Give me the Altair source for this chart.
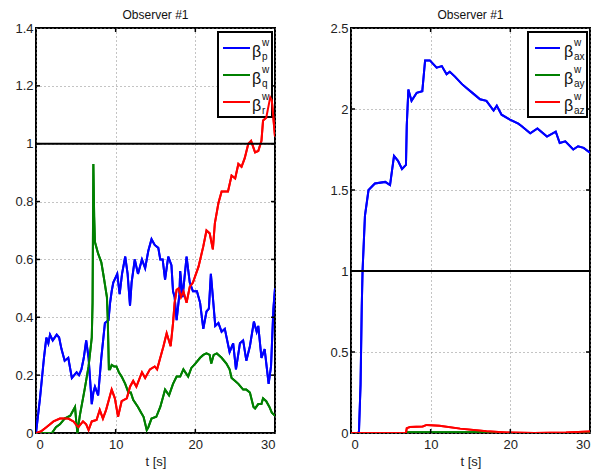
import altair as alt
import pandas as pd

# ---------------- data ----------------
p_t = [0, 0.5, 1.0, 1.3, 1.55, 1.76, 2.1, 2.6, 2.9, 3.2, 3.6, 4.05, 4.5, 4.8, 5.1, 5.4, 5.7, 6.0, 6.3, 6.6,
       7.0, 7.2, 7.4, 7.8, 8.2, 8.65, 9.1, 9.3, 9.5, 9.7, 10.2, 10.5, 10.8, 11.2, 11.5, 11.8, 12.0, 12.4, 12.8,
       13.3, 13.7, 14.1, 14.5, 14.9, 15.35, 15.6, 15.9, 16.2, 16.6, 17.0, 17.2, 17.4, 17.65, 18.0, 18.1, 18.4,
       18.9, 19.3, 19.7, 20.2, 20.6, 21.0, 21.4, 21.7, 21.95, 22.2, 22.5, 22.9, 23.3, 23.7, 24.3, 24.75, 25.1,
       25.6, 26.0, 26.4, 26.85, 27.35, 27.7, 27.9, 28.3, 28.7, 29.2, 29.5, 29.8, 30.0]
p_v = [0, 0.12, 0.26, 0.33, 0.31, 0.34, 0.32, 0.34, 0.33, 0.29, 0.25, 0.26, 0.19, 0.20, 0.21, 0.20, 0.22, 0.26, 0.32, 0.26,
       0.10, 0.14, 0.16, 0.13, 0.26, 0.38, 0.39, 0.45, 0.49, 0.52, 0.55, 0.48, 0.55, 0.61, 0.55, 0.44, 0.52, 0.60, 0.55,
       0.60, 0.57, 0.63, 0.67, 0.65, 0.64, 0.60, 0.60, 0.53, 0.61, 0.58, 0.49, 0.47, 0.39, 0.48, 0.56, 0.47,
       0.61, 0.52, 0.49, 0.49, 0.45, 0.36, 0.42, 0.43, 0.55, 0.47, 0.37, 0.38, 0.35, 0.36, 0.28, 0.31, 0.22,
       0.31, 0.32, 0.25, 0.30, 0.385, 0.35, 0.37, 0.26, 0.29, 0.17, 0.23, 0.43, 0.50]

q_t = [0, 1.0, 2.0, 2.5, 3.0, 3.6, 4.3, 4.9, 5.05, 5.2, 5.5, 6.1, 6.6, 7.0, 7.1, 7.2, 7.3, 7.4, 7.8, 8.2, 8.5,
       8.9, 9.0, 9.15, 9.3, 9.5, 9.8, 10.1, 10.4, 10.75, 11.2, 11.6, 11.9, 12.2, 12.8, 13.2, 13.5, 13.9, 14.1,
       14.5, 15.1, 15.6, 16.0, 16.2, 16.7, 17.2, 17.65, 18.1, 18.5, 19.1, 19.5, 20.0, 20.6, 21.0, 21.4, 21.8,
       22.0, 22.3, 22.7, 23.3, 23.9, 24.3, 24.55, 25.0, 25.4, 26.0, 26.4, 26.85, 27.3, 27.5, 27.9, 28.3, 28.5,
       28.9, 29.3, 29.6, 30.0]
q_v = [0, 0, 0.0, 0.02, 0.03, 0.05, 0.06, 0.09, 0.04, 0.0, 0.06, 0.15, 0.23, 0.33, 0.45, 0.93, 0.75, 0.66, 0.62, 0.59, 0.54,
       0.47, 0.40, 0.22, 0.22, 0.235, 0.23, 0.23, 0.21, 0.195, 0.17, 0.14, 0.14, 0.115, 0.09, 0.07, 0.056, 0.01, 0.02,
       0.05, 0.056, 0.09, 0.13, 0.15, 0.13, 0.17, 0.195, 0.195, 0.22, 0.195, 0.225, 0.24, 0.26, 0.27, 0.275, 0.27,
       0.24, 0.27, 0.275, 0.26, 0.24, 0.22, 0.19, 0.18, 0.17, 0.15, 0.15, 0.14, 0.09, 0.085, 0.10, 0.10, 0.12,
       0.11, 0.09, 0.07, 0.06]

r_t = [0, 0.6, 1.3, 2.2, 3.0, 4.05, 4.7, 5.3, 5.9, 6.3, 6.6, 7.0, 7.6, 8.0, 8.4, 8.8, 9.2, 9.5, 9.9, 10.3, 10.75,
       11.4, 11.8, 12.2, 12.6, 13.3, 13.7, 14.3, 14.9, 15.2, 15.6, 16.0, 16.4, 16.9, 17.2, 17.4, 17.65, 17.9,
       18.2, 18.5, 18.9, 19.3, 19.7, 20.4, 21.0, 21.4, 21.8, 22.2, 22.45, 22.9, 23.3, 24.1, 24.55, 25.0, 25.4,
       25.8, 26.2, 26.65, 27.0, 27.5, 27.9, 28.3, 28.5, 28.9, 29.4, 29.6, 30.0]
r_v = [0, 0.005, 0.02, 0.04, 0.05, 0.05, 0.04, 0.02, 0.04, 0.03, 0.01, 0.04, 0.045, 0.08, 0.05, 0.08, 0.12, 0.15, 0.12, 0.056, 0.11,
       0.12, 0.16, 0.18, 0.16, 0.21, 0.19, 0.22, 0.23, 0.22, 0.26, 0.30, 0.345, 0.30, 0.38, 0.45, 0.495, 0.50,
       0.47, 0.49, 0.45, 0.505, 0.52, 0.575, 0.645, 0.70, 0.69, 0.635, 0.725, 0.795, 0.835, 0.835, 0.89, 0.88, 0.93,
       0.92, 0.95, 1.0, 1.01, 0.97, 0.975, 1.01, 1.08, 1.09, 1.16, 1.15, 1.025]

ax_t = [0, 0.9, 1.0, 1.2, 1.35, 1.45, 1.75, 2.2, 3.0, 4.3, 4.9, 5.4, 5.9, 6.4, 6.9, 7.0, 7.2, 7.6, 8.25, 8.95,
        9.3, 9.9, 10.75, 11.4, 12.0, 12.4, 13.05, 13.9, 14.5, 15.35, 16.2, 17.0, 17.9, 18.3, 18.9, 19.95, 21.0,
        21.4, 22.5, 23.4, 24.6, 25.7, 26.2, 26.9, 27.9, 28.5, 29.2, 30.0]
ax_v = [0, 0, 0.01, 0.3, 0.78, 1.0, 1.34, 1.50, 1.54, 1.55, 1.53, 1.71, 1.68, 1.63, 1.655, 1.9, 2.12, 2.05, 2.10, 2.11,
        2.30, 2.30, 2.255, 2.265, 2.215, 2.23, 2.20, 2.155, 2.13, 2.095, 2.06, 2.05, 1.99, 2.02, 1.965, 1.935, 1.91,
        1.895, 1.85, 1.88, 1.83, 1.86, 1.79, 1.80, 1.75, 1.77, 1.76, 1.73]

ay_t = [0, 7.0, 7.1, 17.5, 18.0, 30.0]
ay_v = [0, 0, 0.005, 0.005, 0, 0]

az_t = [0, 6.9, 7.0, 7.4, 9.0, 9.5, 11.1, 13.7, 17.0, 19.5, 23.0, 27.0, 30.0]
az_v = [0, 0, 0.03, 0.037, 0.04, 0.05, 0.045, 0.027, 0.011, 0.003, 0.0, 0.003, 0.01]

left_names = ["p", "q", "r"]
right_names = ["ax", "ay", "az"]
colors = ["#0000ff", "#008000", "#ff0000"]
x_ticks = [0, 10, 20, 30]
left_yticks = [0, 0.2, 0.4, 0.6, 0.8, 1.0, 1.2, 1.4]
right_yticks = [0, 0.5, 1.0, 1.5, 2.0, 2.5]
title_text = "Observer #1"

W, H = 239, 405
FONT = "Liberation Sans"


def long_frame(names, ts, vs):
    rows = []
    for n, t, v in zip(names, ts, vs):
        for a, b in zip(t, v):
            rows.append({"s": n, "t": a, "v": b})
    return pd.DataFrame(rows)


def panel(names, ts, vs, ydom, yticks, box, line_x, beta_x):
    df = long_frame(names, ts, vs)
    xs = alt.X("t:Q", scale=alt.Scale(domain=[0, 30], nice=False),
               axis=alt.Axis(values=x_ticks, title="t [s]", grid=True))
    ys = alt.Y("v:Q", scale=alt.Scale(domain=ydom, nice=False),
               axis=alt.Axis(values=yticks, title=None, grid=True,
                             labelExpr="format(datum.value, '~g')"))
    lines = alt.Chart(df).mark_line(strokeWidth=2, clip=True).encode(
        x=xs, y=ys,
        color=alt.Color("s:N", scale=alt.Scale(domain=names, range=colors), legend=None),
    )
    ref = alt.Chart(pd.DataFrame({"v": [1.0]})).mark_rule(color="black", strokeWidth=2).encode(
        y=alt.Y("v:Q"))
    ytk = pd.DataFrame({"v": yticks[1:-1]})
    xtk = pd.DataFrame({"t": x_ticks[1:-1]})
    tick_layers = [
        alt.Chart(ytk).mark_rule(color="black", strokeWidth=1.5).encode(
            y=alt.Y("v:Q"), x=alt.value(0), x2=alt.value(4)),
        alt.Chart(ytk).mark_rule(color="black", strokeWidth=1.5).encode(
            y=alt.Y("v:Q"), x=alt.value(W - 4), x2=alt.value(W)),
        alt.Chart(xtk).mark_rule(color="black", strokeWidth=1.5).encode(
            x=alt.X("t:Q"), y=alt.value(H - 4), y2=alt.value(H)),
        alt.Chart(xtk).mark_rule(color="black", strokeWidth=1.5).encode(
            x=alt.X("t:Q"), y=alt.value(0), y2=alt.value(4)),
    ]
    dummy = pd.DataFrame({"a": [0]})
    bx0, bx1, by0, by1 = box
    box_layer = alt.Chart(dummy).mark_rect(fill="white", stroke="black", strokeWidth=2).encode(
        x=alt.value(bx0), x2=alt.value(bx1), y=alt.value(by0), y2=alt.value(by1))
    leg = []
    for i, (n, c) in enumerate(zip(names, colors)):
        yy = 20 + 27 * i
        leg.append(alt.Chart(dummy).mark_rule(color=c, strokeWidth=2).encode(
            x=alt.value(line_x[0]), x2=alt.value(line_x[1]), y=alt.value(yy)))
        leg.append(alt.Chart(dummy).mark_text(text="β", font=FONT, fontSize=16, align="left",
                                               baseline="middle", color="#111").encode(
            x=alt.value(beta_x), y=alt.value(yy + 4)))
        leg.append(alt.Chart(dummy).mark_text(text="w", font=FONT, fontSize=10, align="left",
                                               baseline="middle", color="#111").encode(
            x=alt.value(beta_x + 10), y=alt.value(yy - 5)))
        leg.append(alt.Chart(dummy).mark_text(text=n, font=FONT, fontSize=10, align="left",
                                               baseline="middle", color="#111").encode(
            x=alt.value(beta_x + 10), y=alt.value(yy + 9)))
    return alt.layer(lines, box_layer, lines, ref, *tick_layers, *leg).properties(
        width=W, height=H,
        title=alt.TitleParams(title_text, fontSize=12, font=FONT, fontWeight="normal",
                              color="#111", offset=0),
    )


left = panel(left_names, [p_t, q_t, r_t], [p_v, q_v, r_v], [0, 1.4], left_yticks,
             (182, 236, 4, 89), (187, 214), 216)
right = panel(right_names, [ax_t, ay_t, az_t], [ax_v, ay_v, az_v], [0, 2.5], right_yticks,
              (177, 236, 4, 89), (184, 209), 213)

chart = alt.hconcat(left, right, spacing=46).properties(padding=0).configure_view(
    stroke="black", strokeWidth=2
).configure_axis(
    domain=False, ticks=False, labelFont=FONT, labelFontSize=13, labelColor="#222",
    labelPadding=4, titleFont=FONT, titleFontSize=13, titleFontWeight="normal", titleColor="#222",
    titlePadding=0, gridColor="#888", gridDash=[1, 3], gridWidth=1, minExtent=27,
).configure_axisY(labelPadding=3).configure_axisX(labelPadding=5, titlePadding=-5)

chart.save("out.html", embed_options={"renderer": "svg", "actions": False})
